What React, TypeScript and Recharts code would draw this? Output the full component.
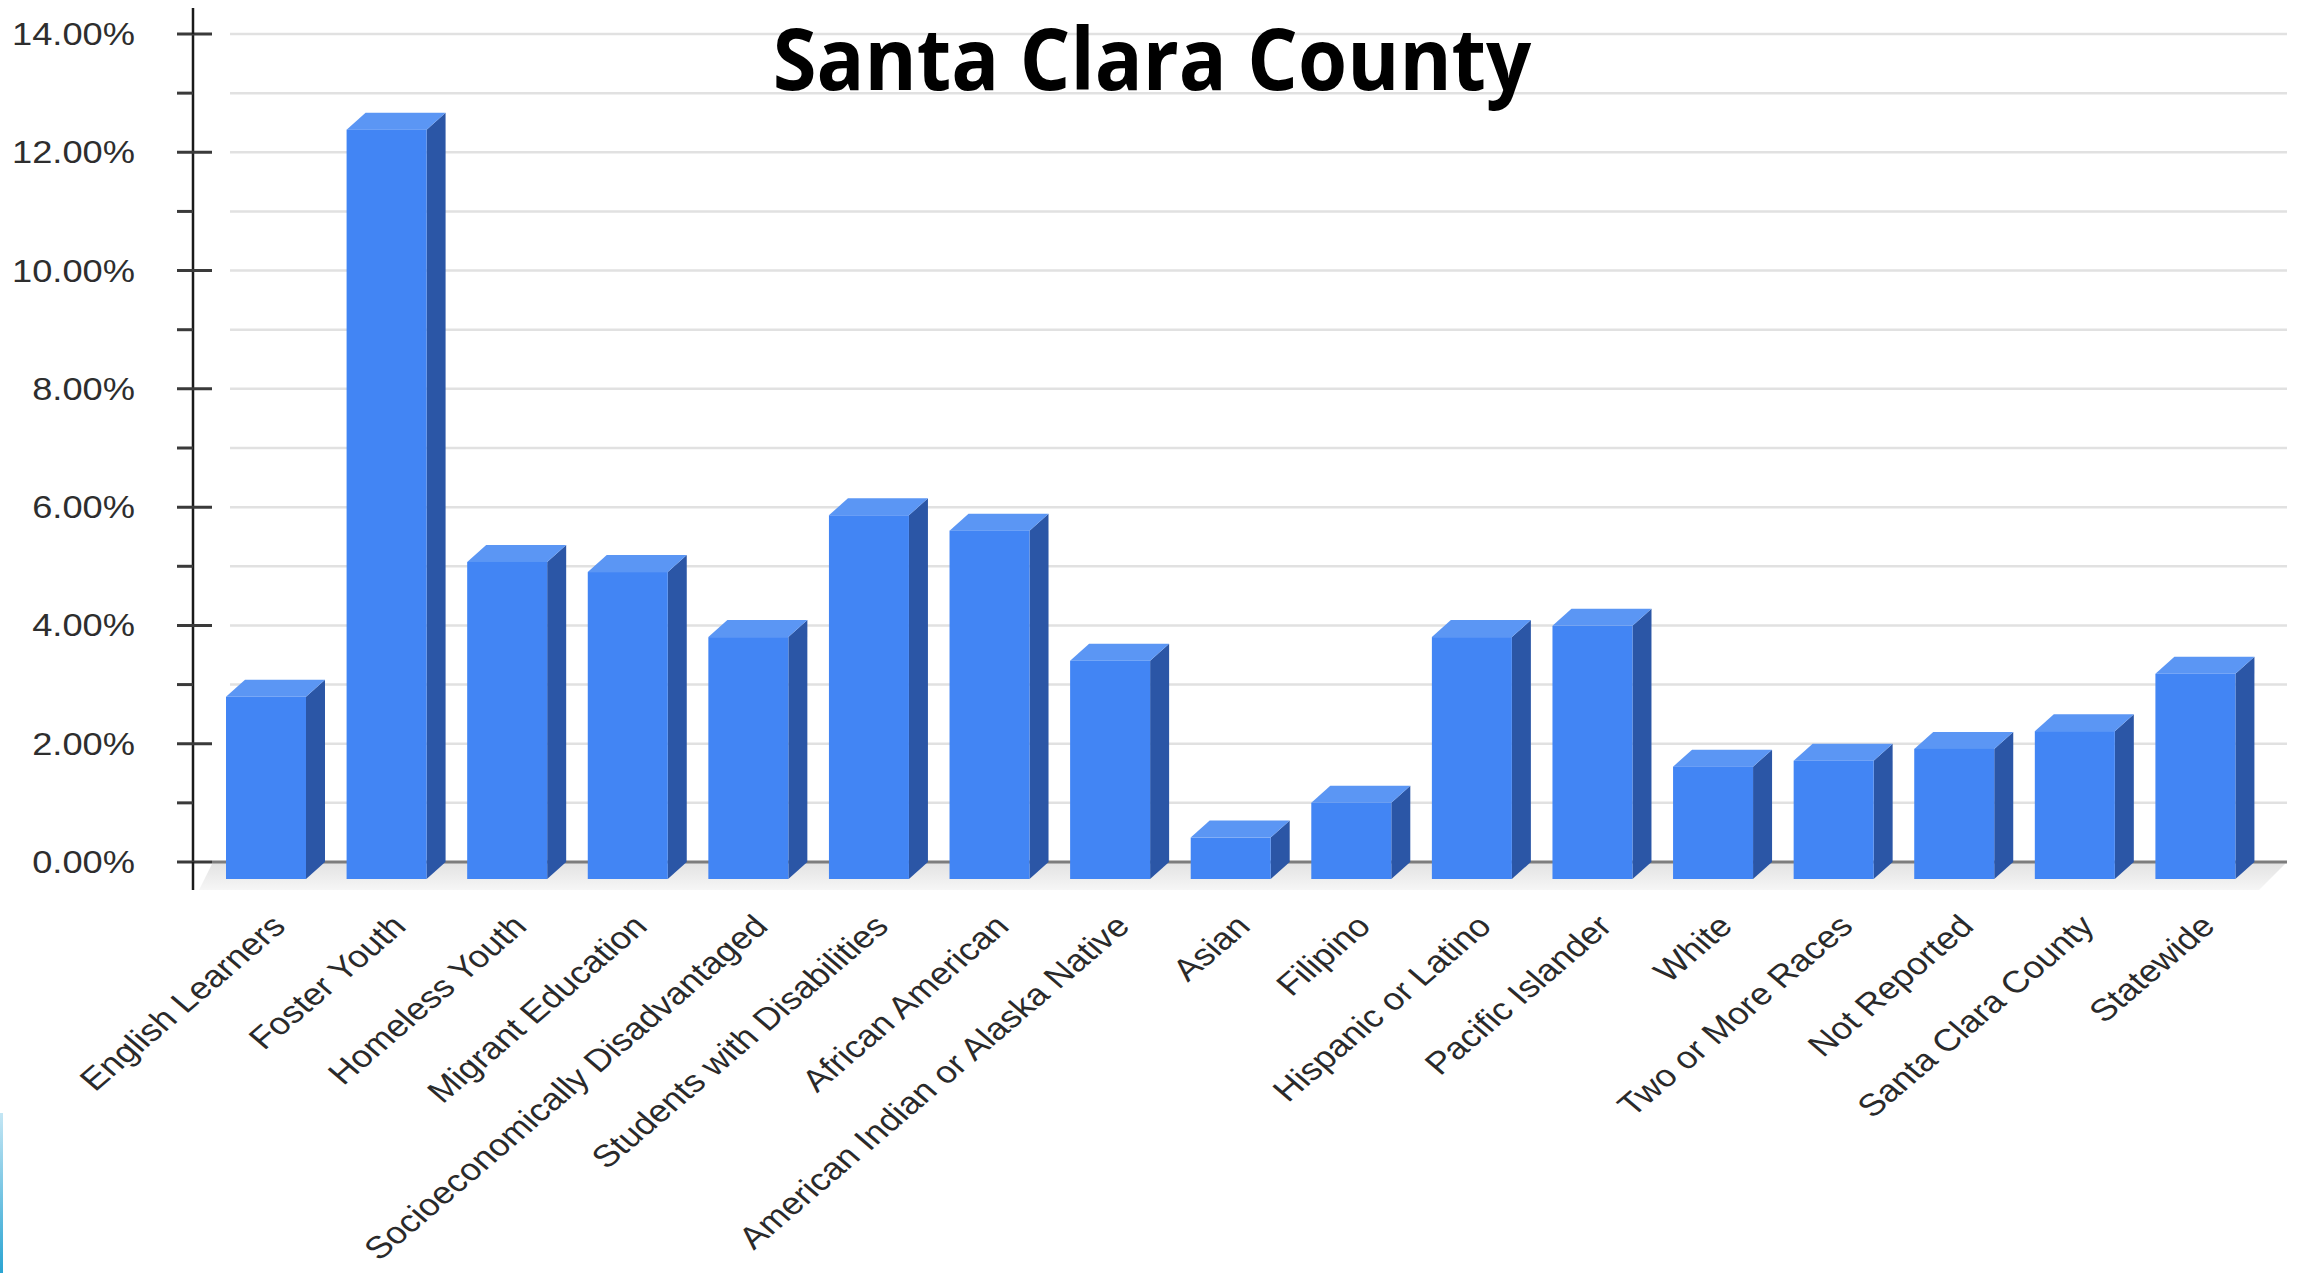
import React from 'react';
import { BarChart, Bar, XAxis, YAxis, CartesianGrid } from 'recharts';

// Chronic absenteeism rate by student group
const categories: string[] = [
  'English Learners',
  'Foster Youth',
  'Homeless Youth',
  'Migrant Education',
  'Socioeconomically Disadvantaged',
  'Students with Disabilities',
  'African American',
  'American Indian or Alaska Native',
  'Asian',
  'Filipino',
  'Hispanic or Latino',
  'Pacific Islander',
  'White',
  'Two or More Races',
  'Not Reported',
  'Santa Clara County',
  'Statewide',
];

const rates: number[] = [
  3.08, 12.67, 5.36, 5.19, 4.09, 6.15, 5.89, 3.69, 0.7, 1.29, 4.09, 4.28, 1.9, 2.0, 2.2, 2.5, 3.47,
];

const yTicks: number[] = [0, 1, 2, 3, 4, 5, 6, 7, 8, 9, 10, 11, 12, 13, 14];

const chartTitle = 'Santa Clara County';

const data = categories.map((name, i) => ({ name, value: rates[i] }));

const W = 2305;
const H = 1273;

// 3D extrusion offsets (front face is pushed left/down from the value plane)
const DX = 19;
const DY = 17;
const STRETCH = 1.17;
const FONT = '"Liberation Sans", Arial, sans-serif';

const FRONT = '#4285f4';
const SIDE = '#2b56a6';
const TOP = '#5b96f4';

const Bar3D = (props: any) => {
  const { x, y, width, height } = props;
  if (x == null || y == null || !width) return null;
  const y0 = y + height;
  const fx = x - DX;
  return (
    <g>
      {/* side face */}
      <polygon
        points={`${fx + width},${y + DY} ${x + width},${y} ${x + width},${y0} ${fx + width},${y0 + DY}`}
        fill={SIDE}
      />
      {/* top face */}
      <polygon
        points={`${fx},${y + DY} ${x},${y} ${x + width},${y} ${fx + width},${y + DY}`}
        fill={TOP}
      />
      {/* front face */}
      <rect x={fx} y={y + DY} width={width} height={height} fill={FRONT} />
    </g>
  );
};

const GridLine = (props: any) => {
  const { x1, x2, y1, index } = props;
  const isBase =
    typeof props.y === 'number' && typeof props.height === 'number'
      ? Math.abs(y1 - (props.y + props.height)) < 1
      : index === 0;
  if (isBase) {
    return (
      <g key={props.key}>
        <polygon
          points={`${x1 + 20},${y1} ${x2},${y1} ${x2 - 28},${y1 + 28} ${x1 + 6},${y1 + 28}`}
          fill="url(#floorGrad)"
        />
        <line x1={x1 + 19} x2={x2} y1={y1} y2={y1} stroke="#7d7d7d" strokeWidth={3} />
      </g>
    );
  }
  return <line key={props.key} x1={x1 + 37} x2={x2} y1={y1} y2={y1} stroke="#e1e1e1" strokeWidth={2.5} />;
};

const YTick = (props: any) => {
  const { x, y, payload } = props;
  const v: number = payload.value;
  const major = v % 2 === 0;
  return (
    <g>
      <line x1={x - 16} x2={major ? x + 19 : x} y1={y} y2={y} stroke="#3a3a3a" strokeWidth={3} />
      {v === 0 && <line x1={x} x2={x} y1={y} y2={y + 28} stroke="#1a1a1a" strokeWidth={2.5} />}
      {v === 14 && <line x1={x} x2={x} y1={y - 26} y2={y} stroke="#1a1a1a" strokeWidth={2.5} />}
      {major && (
        <text
          transform={`translate(${x - 58},${y}) scale(${STRETCH},1)`}
          textAnchor="end"
          dominantBaseline="central"
          fontFamily={FONT}
          fontSize={31}
          fill="#2e2e2e"
        >
          {v.toFixed(2)}%
        </text>
      )}
    </g>
  );
};

const XTick = (props: any) => {
  const { x, y, payload } = props;
  return (
    <text
      transform={`translate(${x + 2},${y + 66}) scale(${STRETCH},1) rotate(-45)`}
      textAnchor="end"
      fontFamily={FONT}
      fontSize={31}
      fill="#2a2a2a"
    >
      {payload.value}
    </text>
  );
};

export default function App() {
  return (
    <div style={{ position: 'absolute', left: 0, top: 0, width: W, height: H, background: '#ffffff' }}>
      <svg width={0} height={0} style={{ position: 'absolute' }}>
        <defs>
          <linearGradient id="floorGrad" x1="0" y1="0" x2="0" y2="1">
            <stop offset="0%" stopColor="#e2e2e2" />
            <stop offset="100%" stopColor="#f6f6f6" />
          </linearGradient>
        </defs>
      </svg>
      <BarChart
        width={W}
        height={H}
        data={data}
        margin={{ top: 34, right: 18, bottom: 0, left: 0 }}
        barSize={80}
      >
        <CartesianGrid vertical={false} horizontal={GridLine as any} />
        <XAxis
          dataKey="name"
          interval={0}
          height={411}
          axisLine={false}
          tickLine={false}
          tickSize={0}
          tickMargin={0}
          padding={{ left: 32, right: 12 }}
          tick={XTick}
        />
        <YAxis
          type="number"
          domain={[0, 14]}
          ticks={yTicks}
          interval={0}
          width={193}
          tickSize={0}
          tickMargin={0}
          tickLine={false}
          axisLine={{ stroke: '#1a1a1a', strokeWidth: 2.5 }}
          tick={YTick}
        />
        <Bar dataKey="value" shape={(p: any) => <Bar3D {...p} />} isAnimationActive={false} />
      </BarChart>
      <svg width={W} height={220} style={{ position: 'absolute', left: 0, top: 0, pointerEvents: 'none' }}>
        <text
          transform="translate(1152,90) scale(0.924,1)"
          textAnchor="middle"
          fontFamily='"Open Sans", sans-serif'
          fontWeight={700}
          fontSize={86}
          fill="#000000"
        >
          {chartTitle}
        </text>
      </svg>
      <div
        style={{
          position: 'absolute',
          left: 0,
          top: 1113,
          width: 3,
          height: 160,
          background: 'linear-gradient(#c4e6f4, #2aa4d2)',
        }}
      />
    </div>
  );
}
